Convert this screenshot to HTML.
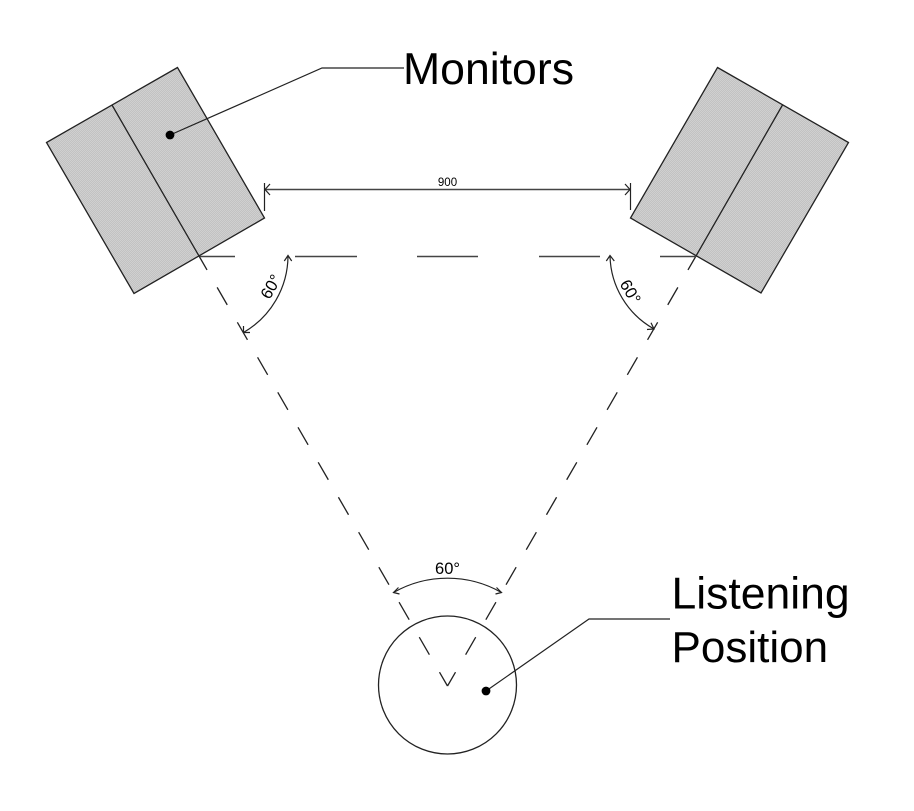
<!DOCTYPE html>
<html>
<head>
<meta charset="utf-8">
<style>
html,body{margin:0;padding:0;background:#fff;width:914px;height:811px;overflow:hidden}
svg{display:block}
text{font-family:"Liberation Sans",Arial,sans-serif;fill:#000}
</style>
</head>
<body>
<svg width="914" height="811" viewBox="0 0 914 811" xmlns="http://www.w3.org/2000/svg">
<defs>
<pattern id="h" width="2" height="2" patternUnits="userSpaceOnUse">
<rect width="2" height="2" fill="#c2c2c2"/>
<rect width="1" height="1" fill="#d0d0d0"/>
<rect x="1" y="1" width="1" height="1" fill="#d0d0d0"/>
</pattern>
</defs>
<g stroke="#222" stroke-width="1.3" fill="url(#h)" stroke-linejoin="miter">
<polygon points="177.5,67.5 46.5,142.5 134,293.5 264.5,218"/>
<polygon points="717.5,67.5 848.5,142.5 761,293 630.5,218"/>
</g>
<g stroke="#222" stroke-width="1.3" fill="none">
<line x1="112" y1="105" x2="199" y2="256"/>
<line x1="782.5" y1="105" x2="696" y2="256"/>
<line x1="447.5" y1="686" x2="199" y2="256" stroke-dasharray="20.2 20.2" stroke-dashoffset="4.2"/>
<line x1="447.5" y1="686" x2="696" y2="256" stroke-dasharray="20.2 20.2" stroke-dashoffset="4.2"/>
<circle cx="447.5" cy="685" r="69"/>
</g>
<g stroke="#444" stroke-width="1.5" fill="none">
<line x1="200" y1="256.5" x2="235" y2="256.5"/>
<line x1="295" y1="256.5" x2="357" y2="256.5"/>
<line x1="417" y1="256.5" x2="478" y2="256.5"/>
<line x1="539" y1="256.5" x2="600" y2="256.5"/>
<line x1="660" y1="256.5" x2="696" y2="256.5"/>
<line x1="265" y1="189.5" x2="630" y2="189.5"/>
</g>
<g stroke="#222" stroke-width="1.2" fill="none">
<line x1="264.5" y1="183" x2="264.5" y2="211"/>
<line x1="630.5" y1="183" x2="630.5" y2="210"/>
<polyline points="270,184 265,189.5 270,195"/>
<polyline points="625,184 630,189.5 625,195"/>
<path d="M288,256 A89,89 0 0 1 243.5,332.5"/>
<polyline points="284.3,261 288,255.5 291.7,261"/>
<polyline points="243.5,326 243.5,332.5 250,332.5"/>
<path d="M610,256 A86,86 0 0 0 654,329"/>
<polyline points="606.3,261 610,255.5 614.3,261"/>
<polyline points="647,329.5 654,329 651,322.7"/>
<path d="M393.5,592.5 A109,109 0 0 1 501.5,592.5"/>
<polyline points="398.5,587.5 393.5,592.5 399.5,594"/>
<polyline points="496.5,587.5 501.5,592.5 495.5,594"/>
<polyline points="170,135 322,68 404,68"/>
<polyline points="486,691 589,619 670,619"/>
</g>
<circle cx="170" cy="135" r="4.4" fill="#000"/>
<circle cx="486" cy="691" r="4.4" fill="#000"/>
<text x="403" y="84" font-size="44.6">Monitors</text>
<text x="671.5" y="608.5" font-size="44.5">Listening</text>
<text x="671.5" y="662" font-size="44">Position</text>
<text x="447.5" y="186" font-size="11.5" text-anchor="middle">900</text>
<text x="447.5" y="574" font-size="16.5" text-anchor="middle">60°</text>
<text x="0" y="0" font-size="16.5" text-anchor="middle" transform="translate(275.7,289.5) rotate(-60)">60°</text>
<text x="0" y="0" font-size="16.5" text-anchor="middle" transform="translate(625.5,294.5) rotate(60)">60°</text>
</svg>
</body>
</html>
